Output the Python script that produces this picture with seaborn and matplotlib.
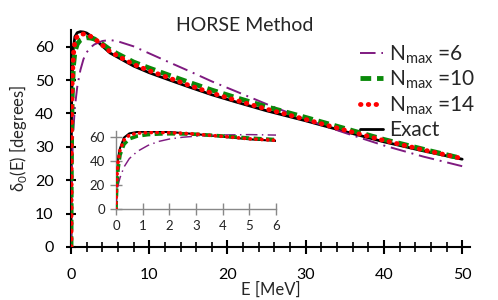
import numpy as np
import pandas as pd
import seaborn as sns
import matplotlib.pyplot as plt

# energy grid [MeV] and phase shifts [degrees]
energy = [0, 0.01, 0.03, 0.08, 0.15, 0.3, 0.5, 0.8, 1.2, 1.6, 2, 2.5, 3, 4, 5, 6,
          8, 10, 12, 15, 18, 21, 25, 30, 35, 40, 45, 50]
exact = [0, 15, 29, 43, 50.6, 59.5, 63, 64.2, 64.5, 64.4, 64.1, 63.3, 62.4, 60.2, 58.1, 56.8,
         54.2, 52.2, 50.5, 48.0, 45.6, 43.5, 40.8, 37.8, 34.6, 31.5, 28.8, 26.3]
nmax14 = [0, 12, 26, 40, 49, 57.5, 61.5, 63.2, 63.7, 63.8, 63.6, 63.1, 62.4, 60.5, 58.5, 57.2,
          54.7, 52.8, 51.1, 48.5, 46.1, 44.0, 41.3, 38.2, 35.0, 31.9, 29.1, 26.5]
nmax10 = [0, 8, 20, 34, 45, 54, 58.5, 60.8, 62.0, 62.5, 62.7, 62.6, 62.3, 60.8, 59.1, 57.8,
          55.4, 53.6, 51.9, 49.4, 47.0, 44.8, 42.0, 38.8, 35.5, 32.2, 29.3, 26.5]
nmax6 = [0, 4, 12, 20, 26, 35, 42, 48, 53, 56.3, 58.3, 59.8, 60.7, 61.7, 62.0, 61.6,
         60.1, 58.0, 55.9, 52.8, 49.6, 46.7, 42.8, 38.2, 34.2, 30.4, 27.1, 24.2]
labels = [r'N$_\mathregular{max}$ =6', r'N$_\mathregular{max}$ =10',
          r'N$_\mathregular{max}$ =14', 'Exact']

sns.set_style('ticks')
plt.rcParams['font.family'] = ['Lato', 'DejaVu Sans']

df = pd.DataFrame({'E': energy, 'exact': exact, 'n14': nmax14, 'n10': nmax10, 'n6': nmax6})


def draw(a, scale=1.0):
    sns.lineplot(data=df, x='E', y='n6', ax=a, color='#7f1a80', lw=1.4 * scale,
                 linestyle=(0, (8, 3, 1, 3)), zorder=3)
    sns.lineplot(data=df, x='E', y='n10', ax=a, color='#0a8a0a', lw=3.5 * scale,
                 linestyle=(0, (2.2, 1.2)), zorder=4)
    sns.lineplot(data=df, x='E', y='n14', ax=a, color='#ff0000', lw=3.5 * scale,
                 linestyle=(0, (0.1, 1.5)), dash_capstyle='round', zorder=5)
    sns.lineplot(data=df, x='E', y='exact', ax=a, color='black', lw=2.0 * scale, zorder=2)
    return list(a.get_lines())


fig, ax = plt.subplots(figsize=(4.98, 3.0), dpi=100)
fig.subplots_adjust(left=71 / 498, right=470 / 498, bottom=53 / 300, top=270 / 300)
lines = draw(ax)
ax.set_xlim(0, 51)
ax.set_ylim(0, 65)
ax.set_xticks(range(0, 51, 10))
ax.set_xticks(range(0, 51, 2), minor=True)
ax.set_yticks(range(0, 61, 10))
ax.set_axisbelow(False)
sns.despine(ax=ax)
for s in ['left', 'bottom']:
    ax.spines[s].set_linewidth(1.5)
    ax.spines[s].set_color('black')
ax.tick_params(axis='x', which='major', direction='inout', length=10, width=1.5,
               pad=10, labelsize=11.5, color='black', labelcolor='black')
ax.tick_params(axis='x', which='minor', direction='inout', length=7, width=1.2, color='black')
ax.tick_params(axis='y', which='major', direction='inout', length=7, width=1.5,
               pad=9, labelsize=11.5, color='black', labelcolor='black')
ax.set_xlabel('E [MeV]', fontsize=12, labelpad=0)
ax.set_ylabel(r'δ$_\mathregular{0}$(E) [degrees]', fontsize=12, labelpad=4)
ax.set_title('HORSE Method', fontsize=14, x=0.436, y=0.995, pad=0)

fig.legend(lines, labels, loc='upper left', bbox_to_anchor=(360 / 498, 1 - 43 / 300),
           frameon=False, fontsize=15, handlelength=1.1, handletextpad=0.3,
           labelspacing=0.15, borderaxespad=0, borderpad=0)

# inset: zoom on the low-energy region
ins = ax.inset_axes([45 / 399, 38 / 217, 160 / 399, 78 / 217])
ins.patch.set_alpha(0)
draw(ins, scale=0.75)
ins.set_xlim(0, 6)
ins.set_ylim(0, 65)
ins.set_xticks(range(0, 7))
ins.set_yticks([0, 20, 40, 60])
ins.set_xlabel('')
ins.set_ylabel('')
sns.despine(ax=ins)
for s in ['left', 'bottom']:
    ins.spines[s].set_color('#888888')
    ins.spines[s].set_linewidth(1.0)
ins.tick_params(direction='inout', length=8, width=1.0, color='#888888', labelsize=9.5,
                labelcolor='#222222', pad=4)

fig.savefig('out.png', dpi=100)
